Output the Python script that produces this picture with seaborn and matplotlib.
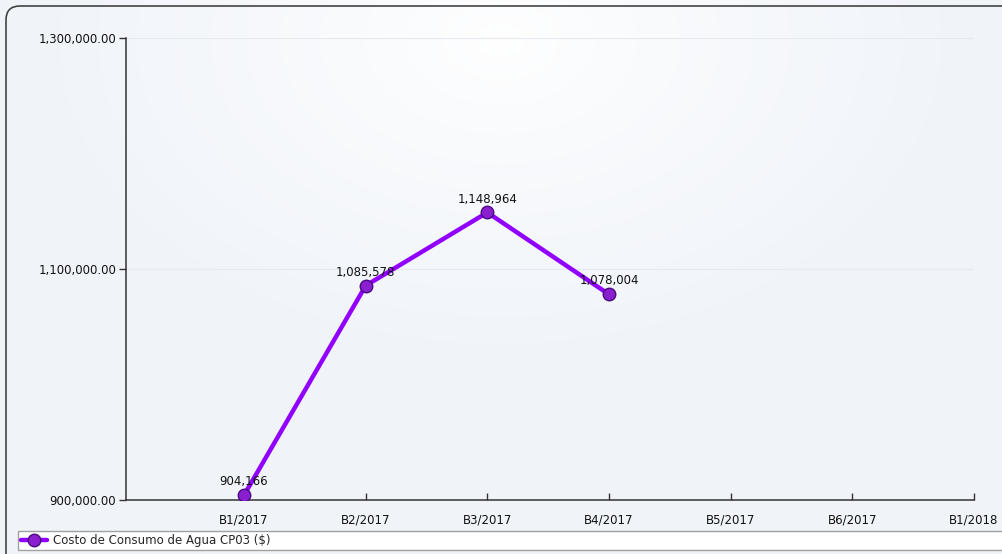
import numpy as np
import pandas as pd
import matplotlib
matplotlib.use("Agg")
import matplotlib.pyplot as plt
from matplotlib.patches import FancyBboxPatch
import seaborn as sns

# Data
periods = ["B1/2017", "B2/2017", "B3/2017", "B4/2017", "B5/2017", "B6/2017", "B1/2018"]
costs = [904166, 1085578, 1148964, 1078004]
series_name = "Costo de Consumo de Agua CP03 ($)"
y_ticks = [900000, 1100000, 1300000]

sns.set_theme(style="white")
plt.rcParams["font.family"] = ["DejaVu Sans"]
FS = 8.5

W, H = 1003, 554
fig = plt.figure(figsize=(W / 100, H / 100), dpi=100)
fig.patch.set_facecolor("white")

# Panel background with a soft glow near the top
bg = fig.add_axes([0, 0, 1, 1], zorder=-10)
bg.set_axis_off()
yy, xx = np.mgrid[0:H, 0:W]
d = np.sqrt(((xx - 500) / 480.0) ** 2 + ((yy - 40) / 330.0) ** 2)
t = np.clip(d, 0, 1) ** 0.8
c0 = np.array([1.0, 1.0, 1.0])
c1 = np.array([0xf0, 0xf4, 0xf9]) / 255.0
img = c0[None, None, :] * (1 - t[..., None]) + c1[None, None, :] * t[..., None]
bg.imshow(img, extent=[0, W, H, 0], aspect="auto")
bg.set_xlim(0, W)
bg.set_ylim(H, 0)
frame = FancyBboxPatch((6, 6), W + 20, H + 20, boxstyle="round,pad=0,rounding_size=14",
                       fc="none", ec="#444444", lw=1.2)
bg.add_patch(frame)

# Plot area
left, right, top, bottom = 126, 974, 38, 500
ax = fig.add_axes([left / W, 1 - bottom / H, (right - left) / W, (bottom - top) / H])
ax.set_facecolor("none")

df = pd.DataFrame({"idx": np.arange(len(costs)), "cost": costs})
sns.lineplot(data=df, x="idx", y="cost", ax=ax, color="#9100ff", lw=3.2,
             marker="o", markersize=9, markerfacecolor="#8a1fd0",
             markeredgecolor="#4a0a80", markeredgewidth=1.0, label=series_name,
             zorder=5)

for i, v in enumerate(costs):
    ax.annotate(f"{v:,}", (i, v), xytext=(0, 5), textcoords="offset points",
                ha="center", va="bottom", fontsize=FS, color="#111111", zorder=6)

ax.set_xlim(-0.97, len(periods) - 1)
ax.set_ylim(900000, 1300000)
ax.set_xticks(range(len(periods)))
ax.set_xticklabels(periods)
ax.set_yticks(y_ticks)
ax.set_yticklabels([f"{v:,.2f}" for v in y_ticks])
ax.set_xlabel("")
ax.set_ylabel("")

for s in ["top", "right"]:
    ax.spines[s].set_visible(False)
for s in ["left", "bottom"]:
    ax.spines[s].set_color("#333333")
    ax.spines[s].set_linewidth(1.1)

ax.tick_params(axis="y", direction="out", length=5, width=1, color="#333333",
               labelsize=FS, labelcolor="#111111", pad=2, left=True)
ax.tick_params(axis="x", direction="in", length=5, width=1, color="#333333",
               labelsize=FS, labelcolor="#111111", pad=10, bottom=True)
ax.yaxis.grid(True, color="#e6e9ee", lw=0.8)
ax.xaxis.grid(False)
ax.set_axisbelow(True)

# Legend bar along the bottom
handles, labels = ax.get_legend_handles_labels()
ax.get_legend().remove()
leg = fig.legend(handles, labels, loc="lower left",
                 bbox_to_anchor=(18 / W, 4 / H, (W - 16) / W, 21 / H),
                 mode="expand", frameon=True, fancybox=False, fontsize=FS,
                 handlelength=2.2, handletextpad=0.5, borderpad=0.25,
                 borderaxespad=0)
leg.get_frame().set_facecolor("white")
leg.get_frame().set_edgecolor("#a0a0a0")
leg.get_frame().set_linewidth(1)
leg.get_frame().set_alpha(1)

fig.savefig("out.png", dpi=100)
